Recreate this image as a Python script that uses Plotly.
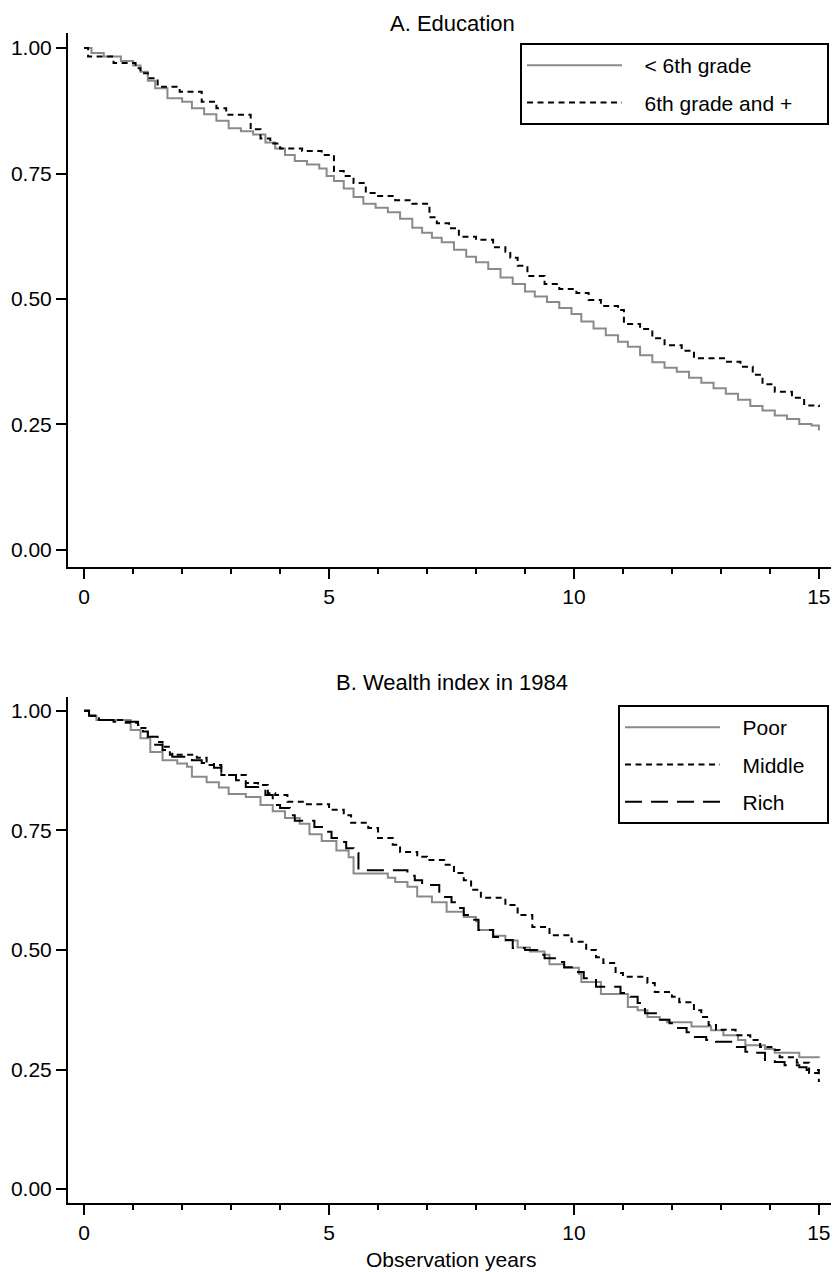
import plotly.graph_objects as go

# ---------------- Panel A: Education ----------------
edu_low_t = [0, 0.15, 0.4, 0.75, 1.0, 1.15, 1.3, 1.45, 1.7, 2.0, 2.2, 2.45, 2.7, 2.95, 3.2, 3.45,
             3.7, 3.9, 4.1, 4.3, 4.55, 4.8, 4.95, 5.1, 5.3, 5.5, 5.7, 5.95, 6.2, 6.45, 6.7, 6.9,
             7.1, 7.3, 7.55, 7.8, 8.0, 8.25, 8.5, 8.75, 9.0, 9.2, 9.45, 9.7, 9.95, 10.15, 10.4,
             10.65, 10.9, 11.1, 11.35, 11.6, 11.85, 12.1, 12.35, 12.6, 12.85, 13.1, 13.35, 13.6,
             13.85, 14.1, 14.35, 14.6, 14.85, 15.0]
edu_low_s = [1.0, 0.99, 0.983, 0.974, 0.965, 0.953, 0.935, 0.92, 0.9, 0.893, 0.88, 0.868, 0.855,
             0.84, 0.834, 0.828, 0.812, 0.8, 0.787, 0.775, 0.768, 0.76, 0.745, 0.735, 0.72, 0.703,
             0.69, 0.682, 0.673, 0.66, 0.642, 0.632, 0.622, 0.613, 0.598, 0.584, 0.573, 0.56,
             0.543, 0.53, 0.515, 0.505, 0.494, 0.482, 0.47, 0.455, 0.441, 0.428, 0.415, 0.405,
             0.388, 0.374, 0.363, 0.355, 0.343, 0.333, 0.322, 0.311, 0.299, 0.287, 0.278, 0.268,
             0.261, 0.251, 0.248, 0.238]

edu_high_t = [0, 0.08, 0.6, 1.05, 1.15, 1.3, 1.5, 1.95, 2.4, 2.7, 2.9, 3.4, 3.6, 3.8, 4.0, 4.45,
              4.85, 5.1, 5.3, 5.5, 5.75, 6.0, 6.35, 6.7, 7.05, 7.2, 7.45, 7.65, 8.0, 8.35, 8.6,
              8.7, 8.85, 9.05, 9.4, 9.7, 10.05, 10.3, 10.55, 10.9, 11.02, 11.35, 11.6, 11.85,
              12.2, 12.45, 13.1, 13.4, 13.65, 13.85, 14.1, 14.45, 14.7, 15.0]
edu_high_s = [1.0, 0.983, 0.97, 0.96, 0.95, 0.94, 0.923, 0.913, 0.893, 0.88, 0.867, 0.838, 0.82,
              0.81, 0.8, 0.795, 0.787, 0.755, 0.745, 0.731, 0.711, 0.705, 0.697, 0.69, 0.663,
              0.651, 0.641, 0.624, 0.618, 0.603, 0.594, 0.582, 0.566, 0.546, 0.53, 0.52, 0.512,
              0.498, 0.486, 0.478, 0.45, 0.44, 0.422, 0.408, 0.397, 0.382, 0.375, 0.365, 0.349,
              0.33, 0.315, 0.303, 0.288, 0.285]

# ---------------- Panel B: Wealth index in 1984 ----------------
poor_t = [0, 0.1, 0.25, 0.95, 1.15, 1.35, 1.6, 1.9, 2.1, 2.2, 2.5, 2.75, 2.95, 3.3, 3.6, 3.85,
          4.1, 4.4, 4.6, 4.85, 5.15, 5.4, 5.5, 6.2, 6.35, 6.6, 6.8, 7.1, 7.4, 7.75, 8.0, 8.05,
          8.35, 8.6, 8.85, 9.1, 9.4, 9.5, 9.8, 10.1, 10.15, 10.55, 11.1, 11.3, 11.5, 11.75,
          11.9, 12.4, 12.8, 13.05, 13.35, 13.5, 13.9, 14.1, 14.6, 15.0]
poor_s = [1.0, 0.99, 0.981, 0.96, 0.943, 0.914, 0.897, 0.89, 0.883, 0.862, 0.851, 0.84, 0.826,
          0.82, 0.803, 0.79, 0.776, 0.764, 0.742, 0.728, 0.708, 0.694, 0.66, 0.651, 0.642,
          0.632, 0.612, 0.6, 0.58, 0.569, 0.56, 0.542, 0.53, 0.52, 0.505, 0.497, 0.49, 0.47,
          0.463, 0.45, 0.433, 0.408, 0.381, 0.374, 0.36, 0.354, 0.349, 0.34, 0.332, 0.322,
          0.312, 0.301, 0.293, 0.285, 0.276, 0.274]

middle_t = [0, 0.1, 0.3, 0.8, 1.1, 1.3, 1.5, 1.6, 1.75, 2.3, 2.5, 2.8, 3.3, 3.55, 3.75, 3.9,
            4.15, 4.5, 5.0, 5.3, 5.45, 5.8, 6.0, 6.3, 6.45, 6.8, 7.0, 7.35, 7.55, 7.75, 7.9,
            8.1, 8.6, 8.85, 9.15, 9.5, 9.95, 10.25, 10.45, 10.6, 10.85, 11.0, 11.5, 11.65,
            12.0, 12.15, 12.45, 12.6, 12.75, 12.9, 13.3, 13.6, 13.8, 14.1, 14.2, 14.55, 14.8, 15.0]
middle_s = [1.0, 0.99, 0.981, 0.975, 0.964, 0.946, 0.935, 0.925, 0.908, 0.902, 0.887, 0.866,
            0.849, 0.845, 0.828, 0.824, 0.81, 0.805, 0.793, 0.782, 0.766, 0.755, 0.734, 0.72,
            0.705, 0.695, 0.688, 0.678, 0.661, 0.646, 0.626, 0.609, 0.594, 0.573, 0.548, 0.531,
            0.517, 0.5, 0.485, 0.473, 0.452, 0.444, 0.431, 0.412, 0.402, 0.391, 0.374, 0.36,
            0.343, 0.333, 0.322, 0.312, 0.297, 0.291, 0.276, 0.264, 0.243, 0.224]

rich_t = [0, 0.1, 0.3, 0.6, 1.1, 1.2, 1.3, 1.45, 1.6, 1.8, 2.2, 2.4, 2.65, 2.8, 3.1, 3.3, 3.7,
          3.85, 4.0, 4.2, 4.3, 4.7, 4.95, 5.05, 5.25, 5.35, 5.5, 5.6, 6.6, 6.75, 6.9, 7.25, 7.5,
          7.6, 7.75, 7.9, 8.05, 8.35, 8.5, 8.75, 9.0, 9.25, 9.4, 9.7, 9.8, 10.05, 10.2, 10.45,
          10.95, 11.15, 11.3, 11.45, 11.7, 11.95, 12.05, 12.3, 12.45, 12.7, 12.9, 13.3, 13.5,
          13.7, 13.9, 14.1, 14.3, 14.6, 14.75, 15.0]
rich_s = [1.0, 0.99, 0.981, 0.977, 0.971, 0.957, 0.946, 0.929, 0.918, 0.904, 0.897, 0.891,
          0.881, 0.866, 0.855, 0.841, 0.824, 0.803, 0.797, 0.782, 0.77, 0.757, 0.747, 0.734,
          0.726, 0.713, 0.703, 0.667, 0.655, 0.646, 0.636, 0.611, 0.6, 0.588, 0.573, 0.563,
          0.542, 0.527, 0.521, 0.504, 0.5, 0.49, 0.483, 0.475, 0.464, 0.454, 0.441, 0.423,
          0.41, 0.402, 0.389, 0.368, 0.354, 0.347, 0.337, 0.328, 0.318, 0.312, 0.308, 0.297,
          0.287, 0.285, 0.27, 0.266, 0.259, 0.255, 0.249, 0.245]

y_tickvals = [0, 0.25, 0.5, 0.75, 1.0]
y_ticktext = ["0.00", "0.25", "0.50", "0.75", "1.00"]
x_tickvals = [0, 5, 10, 15]
x_ticktext = ["0", "5", "10", "15"]

GRAY = "#8a8a8a"
FONT = "Liberation Sans, Arial, Helvetica, sans-serif"
NB = "\u00a0"

fig = go.Figure()

def add(t, s, name, color, dash, xa, ya, leg, grp, trail):
    fig.add_trace(go.Scatter(
        x=t, y=s, name=NB * 3 + name + NB * trail, mode="lines", line_shape="hv",
        line=dict(color=color, width=2, dash=dash),
        xaxis=xa, yaxis=ya, legend=leg, legendgroup=grp, hoverinfo="skip"))

add(edu_low_t, edu_low_s, "< 6th grade", GRAY, "solid", "x", "y", "legend", "a1", 5)
add(edu_high_t, edu_high_s, "6th grade and +", "black", "6px,4.5px", "x", "y", "legend", "a2", 5)
add(poor_t, poor_s, "Poor", GRAY, "solid", "x2", "y2", "legend2", "b1", 3)
add(middle_t, middle_s, "Middle", "black", "6px,4.5px", "x2", "y2", "legend2", "b2", 3)
add(rich_t, rich_s, "Rich", "black", "17px,9px", "x2", "y2", "legend2", "b3", 3)

# page body has an 8px margin: reference pixel P -> figure pixel P - 8
OFF = 8
W, H = 839 - OFF, 1272 - OFF
plot_left, plot_right = 66 - OFF, 836 - OFF
plot_top, plot_bottom = 33 - OFF, 1203 - OFF
plot_h = plot_bottom - plot_top
plot_w = plot_right - plot_left

def py(pix):
    return (plot_bottom - (pix - OFF)) / plot_h

def px(pix):
    return ((pix - OFF) - plot_left) / plot_w

TICKFONT = dict(size=21, color="black", family=FONT)
xcommon = dict(range=[-0.33, 15.35], showline=True, linecolor="black", linewidth=2,
               ticks="outside", ticklen=10, tickwidth=2, tickcolor="black",
               tickvals=x_tickvals, ticktext=x_ticktext, showgrid=False, zeroline=False,
               minor=dict(dtick=1, tick0=0, ticks="outside", ticklen=5, tickwidth=2,
                          tickcolor="black", showgrid=False),
               tickfont=TICKFONT)
ycommon = dict(showline=True, linecolor="black", linewidth=2, ticks="outside", ticklen=10,
               tickwidth=2, tickcolor="black", tickvals=y_tickvals, ticktext=y_ticktext,
               showgrid=False, zeroline=False, tickfont=TICKFONT)

legcommon = dict(xanchor="right", yanchor="top", bordercolor="black", borderwidth=2,
                 bgcolor="white", font=dict(size=21, color="black", family=FONT),
                 itemwidth=95, tracegroupgap=7, traceorder="grouped")

TITLEFONT = dict(size=22, color="black", family=FONT)

fig.update_layout(
    width=W, height=H,
    margin=dict(l=plot_left, r=W - plot_right, t=plot_top, b=H - plot_bottom),
    paper_bgcolor="white", plot_bgcolor="white",
    font=dict(family=FONT, size=21, color="black"),
    xaxis=dict(domain=[0, 1], anchor="y", **xcommon),
    yaxis=dict(domain=[py(567), 1.0], anchor="x", range=[-0.034, 1.03], **ycommon),
    xaxis2=dict(domain=[0, 1], anchor="y2", **xcommon),
    yaxis2=dict(domain=[0, py(697)], anchor="x2", range=[-0.029, 1.029], **ycommon),
    legend=dict(x=px(829), y=py(43), **legcommon),
    legend2=dict(x=px(829), y=py(705), **legcommon),
    showlegend=True,
    annotations=[
        dict(text="A. Education", x=px(451), y=py(9), xref="paper", yref="paper",
             showarrow=False, xanchor="center", yanchor="top", font=TITLEFONT),
        dict(text="B. Wealth index in 1984", x=px(451), y=py(682), xref="paper", yref="paper",
             showarrow=False, xanchor="center", yanchor="middle", font=TITLEFONT),
        dict(text="Observation years", x=px(450), y=py(1259), xref="paper", yref="paper",
             showarrow=False, xanchor="center", yanchor="middle",
             font=dict(size=21, color="black", family=FONT)),
    ],
)

fig.write_html("out.html")
